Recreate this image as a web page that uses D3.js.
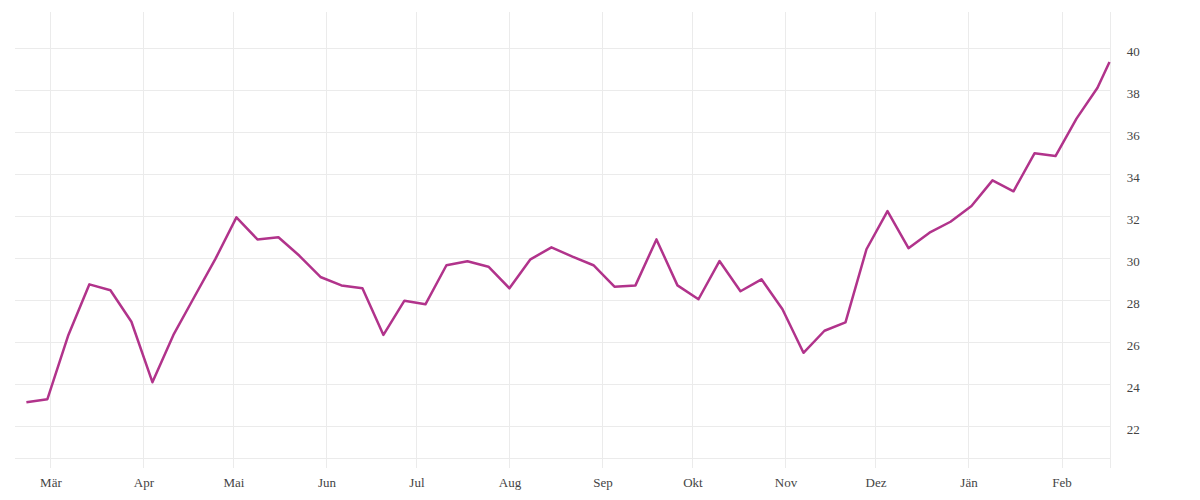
<!DOCTYPE html>
<html>
<head>
<meta charset="utf-8">
<script src="https://cdn.jsdelivr.net/npm/d3@7"></script>
<style>
  html, body { margin: 0; padding: 0; background: #fff; }
  svg { display: block; }
  text { font-family: "Liberation Serif", "DejaVu Serif", serif; }
</style>
</head>
<body>
<svg id="chart" width="1200" height="500"></svg>
<script>
// ---- data ----
const dates = [
  "2020-02-22","2020-02-29","2020-03-07","2020-03-14","2020-03-21","2020-03-28",
  "2020-04-04","2020-04-11","2020-04-18","2020-04-25","2020-05-02","2020-05-09",
  "2020-05-16","2020-05-23","2020-05-30","2020-06-06","2020-06-13","2020-06-20",
  "2020-06-27","2020-07-04","2020-07-11","2020-07-18","2020-07-25","2020-08-01",
  "2020-08-08","2020-08-15","2020-08-22","2020-08-29","2020-09-05","2020-09-12",
  "2020-09-19","2020-09-26","2020-10-03","2020-10-10","2020-10-17","2020-10-24",
  "2020-10-31","2020-11-07","2020-11-14","2020-11-21","2020-11-28","2020-12-05",
  "2020-12-12","2020-12-19","2020-12-26","2021-01-02","2021-01-09","2021-01-16",
  "2021-01-23","2021-01-30","2021-02-06","2021-02-13","2021-02-17"
];
const values = [
  23.14, 23.29, 26.35, 28.76, 28.48, 26.98,
  24.10, 26.35, 28.17, 29.97, 31.95, 30.90,
  31.00, 30.12, 29.11, 28.71, 28.57, 26.35,
  27.98, 27.81, 29.67, 29.86, 29.60, 28.57,
  29.95, 30.52, 30.08, 29.67, 28.65, 28.71,
  30.90, 28.71, 28.05, 29.87, 28.43, 29.00,
  27.57, 25.50, 26.55, 26.95, 30.43, 32.25,
  30.48, 31.22, 31.74, 32.49, 33.71, 33.19,
  35.00, 34.87, 36.65, 38.12, 39.35
];
const monthTicks = ["2020-03-01","2020-04-01","2020-05-01","2020-06-01","2020-07-01","2020-08-01",
  "2020-09-01","2020-10-01","2020-11-01","2020-12-01","2021-01-01","2021-02-01"];
const monthLabels = ["Mär","Apr","Mai","Jun","Jul","Aug","Sep","Okt","Nov","Dez","Jän","Feb"];
const yTicks = [22, 24, 26, 28, 30, 32, 34, 36, 38, 40];

// ---- layout ----
const parse = d3.timeParse("%Y-%m-%d");
const plot = { left: 15, right: 1110, top: 12, bottom: 458 };
const gridColor = "#ebebeb";
const textColor = "#444";
const lineColor = "#b1338b";

const x = d3.scaleTime()
  .domain([parse("2020-03-01"), parse("2021-02-01")])
  .range([50.4, 1061.5]);
const y = d3.scaleLinear()
  .domain([22, 40])
  .range([426.3, 48.3]);

const svg = d3.select("#chart");

// horizontal gridlines
svg.append("g").selectAll("line").data(yTicks).join("line")
  .attr("x1", plot.left).attr("x2", plot.right)
  .attr("y1", d => Math.round(y(d)) + 0.5).attr("y2", d => Math.round(y(d)) + 0.5)
  .attr("stroke", gridColor).attr("stroke-width", 1);

// vertical gridlines (extend below baseline as ticks)
const tickDates = monthTicks.map(parse);
svg.append("g").selectAll("line").data(tickDates).join("line")
  .attr("x1", d => Math.round(x(d)) + 0.5).attr("x2", d => Math.round(x(d)) + 0.5)
  .attr("y1", plot.top).attr("y2", plot.bottom + 10)
  .attr("stroke", gridColor).attr("stroke-width", 1);

// right edge gridline
svg.append("line")
  .attr("x1", plot.right + 0.5).attr("x2", plot.right + 0.5)
  .attr("y1", plot.top).attr("y2", plot.bottom + 10)
  .attr("stroke", gridColor).attr("stroke-width", 1);

// baseline
svg.append("line")
  .attr("x1", plot.left).attr("x2", plot.right)
  .attr("y1", plot.bottom + 0.5).attr("y2", plot.bottom + 0.5)
  .attr("stroke", gridColor).attr("stroke-width", 1);

// x axis labels
const xAxis = d3.axisBottom(x)
  .tickValues(tickDates)
  .tickFormat((d, i) => monthLabels[i])
  .tickSize(0).tickPadding(20);
const gx = svg.append("g").attr("transform", `translate(0,${plot.bottom})`).call(xAxis);
gx.select(".domain").remove();
gx.selectAll("text").attr("fill", textColor).style("font-size", "13px")
  .style("font-family", '"Liberation Serif", serif');

// y axis labels (right)
const yAxis = d3.axisRight(y).tickValues(yTicks).tickSize(0).tickPadding(16.7);
const gy = svg.append("g").attr("transform", `translate(${plot.right},0)`).call(yAxis);
gy.select(".domain").remove();
gy.selectAll("text").attr("fill", textColor).attr("dy", "0.52em").style("font-size", "13px")
  .style("font-family", '"Liberation Serif", serif');

// line
const data = dates.map((d, i) => ({ date: parse(d), value: values[i] }));
const line = d3.line().x(d => x(d.date)).y(d => y(d.value));
svg.append("path").datum(data)
  .attr("d", line)
  .attr("fill", "none")
  .attr("stroke", lineColor)
  .attr("stroke-width", 2.5)
  .attr("stroke-linejoin", "round")
  .attr("stroke-linecap", "butt");
</script>
</body>
</html>
